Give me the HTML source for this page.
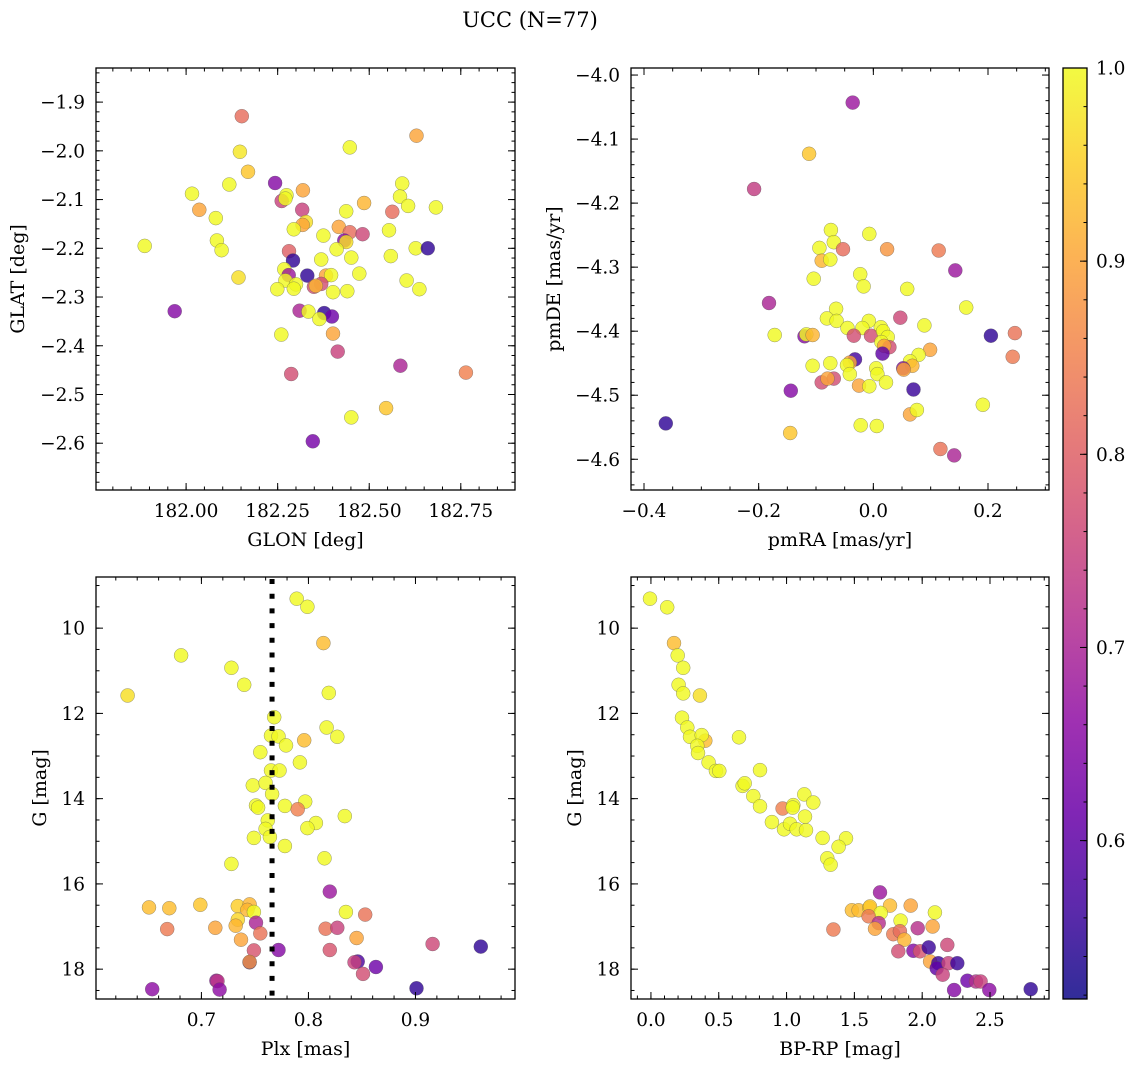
<!DOCTYPE html>
<html><head><meta charset="utf-8"><title>UCC (N=77)</title>
<style>
html,body{margin:0;padding:0;background:#fff;}
svg{display:block;font-family:"DejaVu Serif","Liberation Serif",serif;}
</style></head>
<body>
<svg id="fig" width="1136" height="1067" viewBox="0 0 1136 1067" xmlns="http://www.w3.org/2000/svg">
<defs>
<linearGradient id="plasmaGrad" x1="0" y1="1" x2="0" y2="0"></linearGradient>
</defs>
<text x="530" y="27" text-anchor="middle" font-size="21" fill="#000">UCC (N=77)</text>
</svg>
<script>
// ---- Panel 1 data: GLON / GLAT ----
const glon = [182.152,182.629,182.447,182.147,182.169,182.243,182.118,182.590,182.016,182.319,182.274,182.261,182.271,182.584,182.036,182.317,182.437,182.486,182.606,182.682,182.563,182.081,182.327,182.318,182.294,182.417,182.447,182.482,182.375,182.554,181.887,182.084,182.097,182.432,182.437,182.411,182.627,182.660,182.281,182.292,182.369,182.451,182.559,182.268,182.280,182.331,182.382,182.396,182.473,182.143,182.271,182.300,182.369,182.349,182.354,182.602,182.249,182.294,182.401,182.440,182.637,181.969,182.310,182.334,182.377,182.398,182.364,182.401,182.260,182.414,182.585,182.764,182.287,182.546,182.451,182.346];
const glat = [-1.929,-1.969,-1.993,-2.002,-2.043,-2.066,-2.069,-2.067,-2.088,-2.081,-2.091,-2.103,-2.098,-2.094,-2.121,-2.121,-2.124,-2.107,-2.113,-2.116,-2.125,-2.138,-2.146,-2.152,-2.161,-2.156,-2.167,-2.171,-2.174,-2.163,-2.195,-2.184,-2.204,-2.184,-2.187,-2.202,-2.200,-2.200,-2.206,-2.225,-2.223,-2.219,-2.216,-2.243,-2.255,-2.256,-2.256,-2.255,-2.252,-2.260,-2.266,-2.274,-2.273,-2.279,-2.277,-2.266,-2.284,-2.283,-2.290,-2.288,-2.284,-2.329,-2.328,-2.330,-2.333,-2.340,-2.345,-2.375,-2.377,-2.412,-2.441,-2.455,-2.458,-2.528,-2.547,-2.596];
const prob1 = [0.82,0.90,1.0,0.98,0.94,0.65,1.0,1.0,1.0,0.90,1.0,0.75,1.0,1.0,0.90,0.75,1.0,0.92,1.0,1.0,0.82,1.0,0.97,0.90,1.0,0.90,0.82,0.76,1.0,1.0,1.0,1.0,1.0,0.65,0.97,1.0,1.0,0.55,0.80,0.55,1.0,1.0,1.0,1.0,0.68,0.55,0.90,1.0,1.0,0.97,1.0,1.0,0.77,0.77,0.92,1.0,1.0,1.0,1.0,1.0,1.0,0.65,0.70,1.0,0.55,0.62,1.0,0.90,1.0,0.75,0.70,0.85,0.77,0.94,1.0,0.63];

// ---- Panel 2 data: pmRA / pmDE ----
const pmra = [-0.036,-0.112,-0.208,-0.074,-0.007,-0.069,-0.094,-0.053,0.024,0.114,-0.090,-0.075,0.143,-0.023,-0.104,-0.017,0.059,0.162,-0.182,-0.065,-0.081,-0.064,0.047,-0.008,-0.045,-0.019,0.013,0.089,-0.172,-0.120,-0.117,-0.106,-0.034,-0.004,0.017,0.025,0.014,0.028,0.019,0.205,0.247,0.243,0.016,0.099,-0.032,-0.041,0.079,0.064,0.068,0.052,0.053,-0.106,-0.075,-0.046,-0.041,0.005,0.007,-0.090,-0.069,-0.080,-0.025,-0.007,0.022,-0.144,0.070,0.191,0.064,0.076,-0.362,-0.022,0.006,-0.145,0.117,0.141];
const pmde = [-4.043,-4.123,-4.178,-4.242,-4.248,-4.261,-4.270,-4.272,-4.272,-4.274,-4.290,-4.288,-4.305,-4.311,-4.318,-4.330,-4.334,-4.363,-4.356,-4.365,-4.380,-4.384,-4.379,-4.384,-4.395,-4.395,-4.394,-4.391,-4.406,-4.408,-4.405,-4.406,-4.407,-4.407,-4.400,-4.409,-4.417,-4.425,-4.423,-4.407,-4.403,-4.440,-4.435,-4.429,-4.444,-4.449,-4.437,-4.447,-4.454,-4.458,-4.460,-4.454,-4.450,-4.453,-4.467,-4.458,-4.467,-4.480,-4.474,-4.474,-4.485,-4.486,-4.480,-4.493,-4.491,-4.515,-4.530,-4.523,-4.544,-4.547,-4.548,-4.559,-4.584,-4.594];
const prob2 = [0.68,0.94,0.74,1.0,1.0,1.0,1.0,0.82,0.88,0.84,0.92,1.0,0.68,1.0,1.0,1.0,1.0,1.0,0.70,1.0,1.0,1.0,0.76,1.0,1.0,1.0,1.0,1.0,1.0,0.65,1.0,0.92,0.77,0.77,1.0,1.0,1.0,0.77,0.90,0.55,0.83,0.84,0.60,0.90,0.57,0.90,1.0,1.0,0.92,0.65,0.90,1.0,1.0,1.0,1.0,1.0,1.0,0.77,0.77,0.90,0.90,1.0,1.0,0.65,0.56,1.0,0.90,1.0,0.55,1.0,1.0,0.94,0.83,0.70];

// ---- Panel 3 data: Plx / G ----
const plx = [0.789,0.799,0.814,0.681,0.728,0.740,0.631,0.819,0.768,0.765,0.772,0.817,0.827,0.796,0.779,0.755,0.792,0.765,0.773,0.748,0.760,0.766,0.797,0.751,0.753,0.778,0.790,0.834,0.762,0.807,0.799,0.760,0.764,0.749,0.778,0.815,0.728,0.820,0.651,0.670,0.699,0.734,0.745,0.743,0.749,0.835,0.853,0.734,0.732,0.751,0.668,0.713,0.755,0.816,0.827,0.845,0.737,0.749,0.772,0.820,0.916,0.961,0.745,0.745,0.846,0.843,0.863,0.851,0.654,0.714,0.715,0.717,0.901];
const gmag3 = [9.31,9.50,10.35,10.64,10.93,11.33,11.58,11.52,12.09,12.52,12.54,12.33,12.55,12.63,12.75,12.91,13.15,13.34,13.34,13.69,13.63,13.89,14.07,14.16,14.21,14.17,14.25,14.41,14.51,14.57,14.69,14.71,14.90,14.92,15.11,15.40,15.53,16.18,16.55,16.57,16.49,16.52,16.48,16.61,16.66,16.66,16.72,16.84,16.98,16.91,17.06,17.03,17.16,17.05,17.03,17.27,17.31,17.56,17.55,17.55,17.41,17.47,17.84,17.83,17.82,17.84,17.95,18.11,18.47,18.27,18.28,18.48,18.45];
const prob3 = [1.0,1.0,0.93,1.0,1.0,1.0,0.97,1.0,1.0,1.0,1.0,1.0,1.0,0.93,1.0,1.0,1.0,1.0,1.0,1.0,1.0,1.0,1.0,1.0,1.0,1.0,0.85,1.0,1.0,1.0,1.0,1.0,1.0,1.0,1.0,1.0,1.0,0.68,0.93,0.93,0.94,0.95,0.92,0.92,1.0,1.0,0.83,0.96,0.92,0.70,0.84,0.90,0.83,0.83,0.75,0.90,0.90,0.78,0.65,0.78,0.76,0.55,0.55,0.88,0.58,0.75,0.62,0.77,0.66,0.67,0.73,0.66,0.55];
const plxRef = [0.766];

// ---- Panel 4 data: BP-RP / G ----
const bprp = [-0.007,0.120,0.170,0.197,0.238,0.204,0.238,0.361,0.229,0.268,0.288,0.401,0.374,0.342,0.347,0.649,0.425,0.479,0.504,0.804,0.676,0.691,0.755,0.804,0.971,1.050,1.045,1.131,1.197,0.892,0.981,1.025,1.074,1.136,1.143,1.266,1.438,1.384,1.300,1.325,1.689,1.482,1.531,1.610,1.615,1.763,1.694,1.915,2.094,1.605,1.679,1.841,1.652,1.345,1.787,1.836,1.967,2.077,1.868,1.824,1.935,1.984,2.048,2.185,2.058,2.119,2.107,2.193,2.259,2.151,2.235,2.333,2.397,2.431,2.495,2.800];
const gmag4 = [9.31,9.51,10.35,10.64,10.93,11.33,11.53,11.58,12.10,12.33,12.55,12.64,12.51,12.76,12.93,12.56,13.15,13.35,13.35,13.33,13.70,13.64,13.94,14.18,14.23,14.15,14.21,13.90,14.09,14.55,14.72,14.59,14.72,14.42,14.74,14.92,14.93,15.13,15.40,15.55,16.20,16.62,16.62,16.56,16.53,16.51,16.68,16.51,16.67,16.76,16.92,16.86,17.05,17.07,17.18,17.11,17.04,17.00,17.31,17.58,17.57,17.58,17.49,17.43,17.82,17.86,17.98,17.86,17.86,18.13,18.49,18.27,18.29,18.29,18.49,18.47];
const prob4 = [1.0,1.0,0.93,1.0,1.0,1.0,1.0,0.97,1.0,1.0,1.0,0.93,1.0,1.0,1.0,1.0,1.0,1.0,1.0,1.0,1.0,1.0,1.0,1.0,0.85,1.0,1.0,1.0,1.0,1.0,1.0,1.0,1.0,1.0,1.0,1.0,1.0,1.0,1.0,1.0,0.68,0.93,0.93,0.96,0.94,0.93,1.0,0.90,1.0,0.84,0.72,1.0,0.90,0.84,0.84,0.82,0.72,0.90,0.92,0.77,0.65,0.78,0.56,0.76,0.90,0.56,0.60,0.75,0.56,0.75,0.65,0.62,0.72,0.75,0.66,0.55];

// ---- colorbar ----
const cbTicks = [0.6,0.7,0.8,0.9,1.0];
const vmin = 0.518, vmax = 1.0;

const NS = "http://www.w3.org/2000/svg";
const svg = document.getElementById('fig');
const plasma = [[13,8,135],[65,4,157],[106,0,168],[143,13,164],[177,42,144],[204,71,120],[225,100,98],[242,132,75],[252,166,54],[252,206,37],[240,249,33]];
function plasmaColor(t){
  t = Math.max(0, Math.min(1, t));
  const f = t*10, i = Math.min(9, Math.floor(f)), r = f - i;
  const a = plasma[i], b = plasma[i+1];
  return 'rgb(' + [0,1,2].map(k => Math.round(a[k] + (b[k]-a[k])*r)).join(',') + ')';
}
function cmap(p){ return plasmaColor((p - vmin)/(vmax - vmin)); }
function el(tag, attrs, parent){
  const e = document.createElementNS(NS, tag);
  for (const k in attrs) e.setAttribute(k, attrs[k]);
  (parent || svg).appendChild(e);
  return e;
}
function lin(d0, d1, r0, r1){ return v => r0 + (v - d0)/(d1 - d0)*(r1 - r0); }
function fmt(v, dec){ const s = Math.abs(v).toFixed(dec); return (v < -1e-9 ? '\u2212' : '') + s; }

const TICK_FS = 18.5, LABEL_FS = 19;

function panel(cfg){
  const g = el('g', {});
  
  
  const sx = lin(cfg.xd[0], cfg.xd[1], cfg.x0, cfg.x1);
  // yd[0] maps to the bottom edge, yd[1] to the top edge
  const sy = lin(cfg.yd[0], cfg.yd[1], cfg.y1, cfg.y0);
  const pg = el('g', {}, g);
  
  
  for (let i = 0; i < cfg.xs.length; i++){
    const c = el('circle', {cx: sx(cfg.xs[i]).toFixed(1), cy: sy(cfg.ys[i]).toFixed(1), r: 7, fill: cmap(cfg.ps[i]), 'fill-opacity': 0.82, stroke: '#555', 'stroke-width': 0.5, 'stroke-opacity': 0.6}, pg);
    
    
  }
  if (cfg.extra) cfg.extra(g, sx, sy);
  const tg = el('g', {stroke: '#000', 'stroke-width': 1}, g);
  
  
  function ticksX(step, len, labels){
    const lo = Math.min(cfg.xd[0], cfg.xd[1]), hi = Math.max(cfg.xd[0], cfg.xd[1]);
    for (let k = Math.ceil(lo/step - 1e-6); k <= Math.floor(hi/step + 1e-6); k++){
      const v = k*step, x = sx(v);
      el('line', {x1: x, y1: cfg.y1, x2: x, y2: cfg.y1 - len}, tg);
      el('line', {x1: x, y1: cfg.y0, x2: x, y2: cfg.y0 + len}, tg);
      if (labels){
        const t = el('text', {x: x, y: cfg.y1 + 27, 'text-anchor': 'middle', 'font-size': TICK_FS, fill: '#000', stroke: 'none'}, g);
        
        
        t.textContent = fmt(v, cfg.xdec);
      }
    }
  }
  function ticksY(step, len, labels){
    const lo = Math.min(cfg.yd[0], cfg.yd[1]), hi = Math.max(cfg.yd[0], cfg.yd[1]);
    for (let k = Math.ceil(lo/step - 1e-6); k <= Math.floor(hi/step + 1e-6); k++){
      const v = k*step, y = sy(v);
      el('line', {x1: cfg.x0, y1: y, x2: cfg.x0 + len, y2: y}, tg);
      el('line', {x1: cfg.x1, y1: y, x2: cfg.x1 - len, y2: y}, tg);
      if (labels){
        const t = el('text', {x: cfg.x0 - 11, y: y + 6.5, 'text-anchor': 'end', 'font-size': TICK_FS, fill: '#000', stroke: 'none'}, g);
        
        
        t.textContent = fmt(v, cfg.ydec);
      }
    }
  }
  ticksX(cfg.xmaj, 7, true); ticksX(cfg.xmin, 3.5, false);
  ticksY(cfg.ymaj, 7, true); ticksY(cfg.ymin, 3.5, false);
  const fr = el('rect', {x: cfg.x0, y: cfg.y0, width: cfg.x1 - cfg.x0, height: cfg.y1 - cfg.y0, fill: 'none', stroke: '#000', 'stroke-width': 1.3}, g);
  
  
  const xl = el('text', {x: (cfg.x0 + cfg.x1)/2, y: cfg.y1 + 56, 'text-anchor': 'middle', 'font-size': LABEL_FS, fill: '#000'}, g);
  
  
  xl.textContent = cfg.xlabel;
  const yx = cfg.ylabX, yy = (cfg.y0 + cfg.y1)/2;
  const yl = el('text', {x: yx, y: yy, 'text-anchor': 'middle', 'font-size': LABEL_FS, fill: '#000', transform: 'rotate(-90 ' + yx + ' ' + yy + ')'}, g);
  
  
  yl.textContent = cfg.ylabel;
}

panel({name: 'glon-glat-panel', x0: 96, x1: 515, y0: 68, y1: 490, xd: [181.754, 182.898], yd: [-2.696, -1.830],
  xs: glon, ys: glat, ps: prob1, xmaj: 0.25, xmin: 0.05, ymaj: 0.1, ymin: 0.02, xdec: 2, ydec: 1,
  xlabel: 'GLON [deg]', ylabel: 'GLAT [deg]', ylabX: 24});
panel({name: 'pm-panel', x0: 631, x1: 1049, y0: 68, y1: 490, xd: [-0.4227, 0.3064], yd: [-4.648, -3.989],
  xs: pmra, ys: pmde, ps: prob2, xmaj: 0.2, xmin: 0.05, ymaj: 0.1, ymin: 0.02, xdec: 1, ydec: 1,
  xlabel: 'pmRA [mas/yr]', ylabel: 'pmDE [mas/yr]', ylabX: 560});
panel({name: 'plx-g-panel', x0: 96, x1: 515, y0: 577, y1: 999, xd: [0.6015, 0.993], yd: [18.70, 8.80],
  xs: plx, ys: gmag3, ps: prob3, xmaj: 0.1, xmin: 0.02, ymaj: 2, ymin: 0.5, xdec: 1, ydec: 0,
  xlabel: 'Plx [mas]', ylabel: 'G [mag]', ylabX: 46,
  extra: (g, sx, sy) => {
    const x = sx(plxRef[0]);
    const l = el('line', {x1: x, y1: 579, x2: x, y2: 999, stroke: '#000', 'stroke-width': 5, 'stroke-dasharray': '5 9.7'}, g);
    
    
  }});
panel({name: 'cmd-panel', x0: 631, x1: 1049, y0: 577, y1: 999, xd: [-0.147, 2.935], yd: [18.70, 8.80],
  xs: bprp, ys: gmag4, ps: prob4, xmaj: 0.5, xmin: 0.1, ymaj: 2, ymin: 0.5, xdec: 1, ydec: 0,
  xlabel: 'BP-RP [mag]', ylabel: 'G [mag]', ylabX: 581});

(function(){
  const grad = document.getElementById('plasmaGrad');
  for (let i = 0; i <= 20; i++){
    el('stop', {offset: (i/20), 'stop-color': plasmaColor(i/20)}, grad);
  }
  const x0 = 1063, x1 = 1087, y0 = 68, y1 = 999;
  const g = el('g', {});
  
  
  el('rect', {x: x0, y: y0, width: x1 - x0, height: y1 - y0, fill: 'url(#plasmaGrad)', 'fill-opacity': 0.85}, g);
  const sy = lin(vmin, vmax, y1, y0);
  for (let k = Math.ceil(vmin/0.02); k <= Math.floor(vmax/0.02 + 1e-6); k++){
    const y = sy(k*0.02);
    el('line', {x1: x1, y1: y, x2: x1 - 3.5, y2: y, stroke: '#000', 'stroke-width': 1}, g);
  }
  cbTicks.forEach(v => {
    const y = sy(v);
    el('line', {x1: x1, y1: y, x2: x1 - 7, y2: y, stroke: '#000', 'stroke-width': 1}, g);
    const t = el('text', {x: x1 + 9, y: y + 6.5, 'font-size': TICK_FS, fill: '#000'}, g);
    
    
    t.textContent = v.toFixed(1);
  });
  el('rect', {x: x0, y: y0, width: x1 - x0, height: y1 - y0, fill: 'none', stroke: '#000', 'stroke-width': 1.3}, g);
})();
</script>
</body></html>
